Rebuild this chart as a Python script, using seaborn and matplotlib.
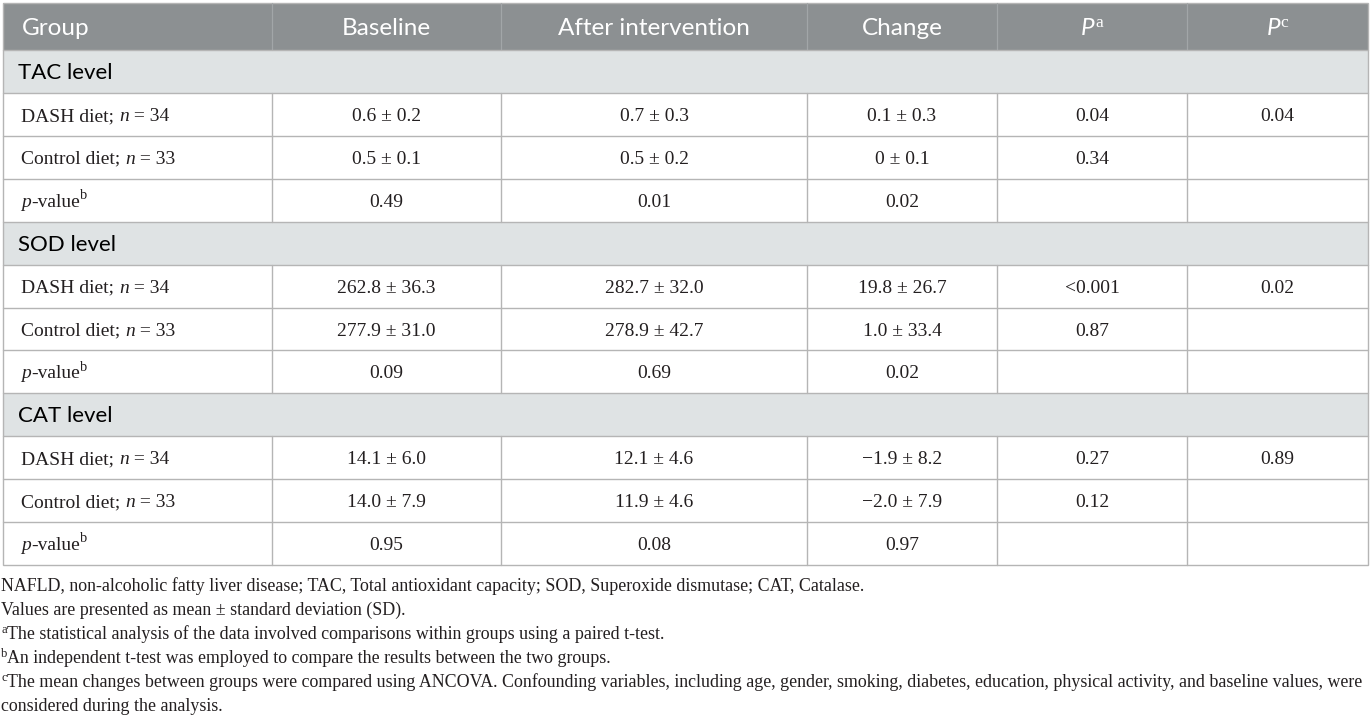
import re
import matplotlib
matplotlib.use("Agg")
import matplotlib.pyplot as plt
from matplotlib.patches import Rectangle
import seaborn as sns

# ---------------- data ----------------
columns = ["Group", "Baseline", "After intervention", "Change", "*P*^{a}", "*P*^{c}"]
sections = ["TAC level", "SOD level", "CAT level"]
groups = ["DASH diet; *n* = 34", "Control diet; *n* = 33", "*p*-value^{b}"]
baseline = [["0.6 ± 0.2", "0.5 ± 0.1", "0.49"],
            ["262.8 ± 36.3", "277.9 ± 31.0", "0.09"],
            ["14.1 ± 6.0", "14.0 ± 7.9", "0.95"]]
after = [["0.7 ± 0.3", "0.5 ± 0.2", "0.01"],
         ["282.7 ± 32.0", "278.9 ± 42.7", "0.69"],
         ["12.1 ± 4.6", "11.9 ± 4.6", "0.08"]]
change = [["0.1 ± 0.3", "0 ± 0.1", "0.02"],
          ["19.8 ± 26.7", "1.0 ± 33.4", "0.02"],
          ["\u22121.9 ± 8.2", "\u22122.0 ± 7.9", "0.97"]]
p_a = [["0.04", "0.34", ""],
       ["<0.001", "0.87", ""],
       ["0.27", "0.12", ""]]
p_c = [["0.04", "", ""],
       ["0.02", "", ""],
       ["0.89", "", ""]]
footnotes = [
    "NAFLD, non-alcoholic fatty liver disease; TAC, Total antioxidant capacity; SOD, Superoxide dismutase; CAT, Catalase.",
    "Values are presented as mean ± standard deviation (SD).",
    "^{a}The statistical analysis of the data involved comparisons within groups using a paired t-test.",
    "^{b}An independent t-test was employed to compare the results between the two groups.",
    "^{c}The mean changes between groups were compared using ANCOVA. Confounding variables, including age, gender, smoking, diabetes, education, physical activity, and baseline values, were",
    "considered during the analysis.",
]

# ---------------- style ----------------
sns.set_theme(style="white")
plt.rcParams["font.family"] = ["Liberation Serif", "DejaVu Serif"]

W, H = 1372, 720
fig = plt.figure(figsize=(W / 100, H / 100), dpi=100)
ax = fig.add_axes([0, 0, 1, 1])
ax.set_xlim(0, W)
ax.set_ylim(H, 0)
ax.axis("off")
renderer = fig.canvas.get_renderer()

HEAD_BG = "#8c9092"
SEC_BG = "#dfe3e4"
LINE = "#b5b5b5"
HEAD_LINE = "#a2a6a8"
TXT = "#231f20"
SANS = ["Lato", "DejaVu Sans"]
SERIF = ["Liberation Serif", "DejaVu Serif"]

X = [3, 272, 501, 807, 997, 1187, 1368]
TOP, HEAD_B, BOT = 3, 50, 565
n_rows = 12
rh = (BOT - HEAD_B) / n_rows
row_edges = [TOP] + [HEAD_B + i * rh for i in range(n_rows + 1)]


def parse(s):
    segs = []
    for m in re.finditer(r"\*([^*]+)\*|\^\{([^}]*)\}|([^*^]+)", s):
        if m.group(1) is not None:
            segs.append((m.group(1), "italic"))
        elif m.group(2) is not None:
            segs.append((m.group(2), "sup"))
        else:
            segs.append((m.group(3), "normal"))
    return segs


def width(txt, family, size, style):
    t = ax.text(0, 0, "|" + txt + "|", family=family, fontsize=size, fontstyle=style)
    w1 = t.get_window_extent(renderer).width
    t.set_text("||")
    w2 = t.get_window_extent(renderer).width
    t.remove()
    return w1 - w2


def rich(x, yc, s, family, size, color, ha="left", sup_family=None, sup_ratio=0.7, sup_rise=0.36):
    segs = parse(s)
    px = size * 100 / 72
    items = []
    for txt, kind in segs:
        fam = family
        if kind == "sup":
            sz, st, dy = size * sup_ratio, "normal", -sup_rise * px
            if sup_family is not None:
                fam = sup_family
        elif kind == "italic":
            sz, st, dy = size, "italic", 0
        else:
            sz, st, dy = size, "normal", 0
        items.append((txt, fam, sz, st, dy, width(txt, fam, sz, st)))
    total = sum(i[5] for i in items)
    cx = x - total / 2 if ha == "center" else x
    base = yc + 0.34 * px
    for txt, fam, sz, st, dy, w in items:
        ax.text(cx, base + dy, txt, family=fam, fontsize=sz, fontstyle=st,
                color=color, ha="left", va="baseline")
        cx += w


# header
ax.add_patch(Rectangle((X[0], TOP), X[-1] - X[0], HEAD_B - TOP, facecolor=HEAD_BG, edgecolor="none"))
for xv in X[1:-1]:
    ax.plot([xv, xv], [TOP, HEAD_B], color=HEAD_LINE, lw=0.9)
for j, c in enumerate(columns):
    yc = (TOP + HEAD_B) / 2
    if j == 0:
        rich(X[0] + 19, yc, c, SANS, 17.5, "white")
    else:
        rich((X[j] + X[j + 1]) / 2, yc, c, SANS, 17.5, "white", ha="center",
             sup_family=SERIF, sup_ratio=0.72, sup_rise=0.33)

# body
cols_data = [baseline, after, change, p_a, p_c]
r = 0
for s_i, sec in enumerate(sections):
    y0, y1 = row_edges[1 + r], row_edges[2 + r]
    ax.add_patch(Rectangle((X[0], y0), X[-1] - X[0], y1 - y0, facecolor=SEC_BG, edgecolor="none"))
    rich(X[0] + 15, (y0 + y1) / 2, sec, SANS, 16, "black")
    ax.plot([X[0], X[-1]], [y0, y0], color=LINE, lw=1.0)
    r += 1
    for g_i, g in enumerate(groups):
        y0, y1 = row_edges[1 + r], row_edges[2 + r]
        yc = (y0 + y1) / 2
        ax.plot([X[0], X[-1]], [y0, y0], color=LINE, lw=1.0)
        for xv in X[1:-1]:
            ax.plot([xv, xv], [y0, y1], color=LINE, lw=1.0)
        rich(X[0] + 18, yc, g, SERIF, 14, TXT, sup_ratio=0.74, sup_rise=0.4)
        for j, col in enumerate(cols_data):
            val = col[s_i][g_i]
            if val:
                rich((X[j + 1] + X[j + 2]) / 2, yc, val, SERIF, 14, TXT, ha="center")
        r += 1

# outer border
ax.add_patch(Rectangle((X[0], TOP), X[-1] - X[0], BOT - TOP, facecolor="none", edgecolor=LINE, lw=1.0))

# footnotes
for k, fn in enumerate(footnotes):
    rich(1, 585 + 24 * k, fn, SERIF, 12.9, TXT, sup_ratio=0.7, sup_rise=0.36)

fig.savefig("out.png", dpi=100)
